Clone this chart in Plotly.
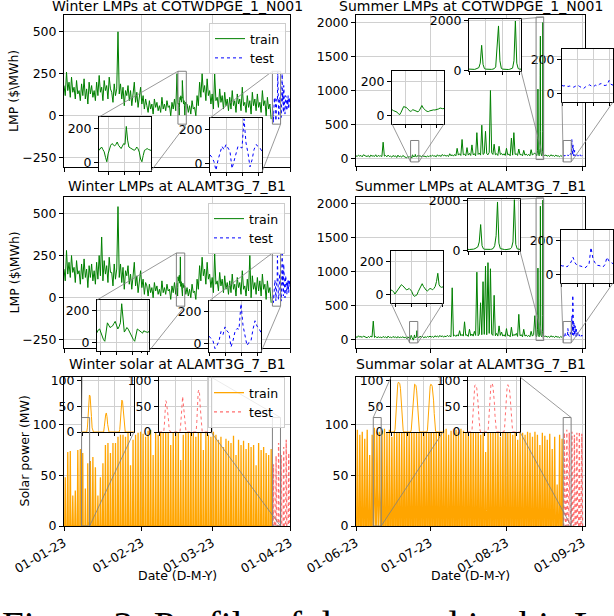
import pandas as pd
import plotly.graph_objects as go

W, H = 614, 616

# ---------------- data ----------------
winter_start = '2023-01-01'
summer_start = '2023-06-01'
winter_test_start = '2023-03-25'
summer_test_start = '2023-08-24'

winter_ticks = ['2023-01-01', '2023-02-01', '2023-03-01', '2023-04-01']
winter_ticktext = ['01-01-23', '01-02-23', '01-03-23', '01-04-23']
summer_ticks = ['2023-06-01', '2023-07-01', '2023-08-01', '2023-09-01']
summer_ticktext = ['01-06-23', '01-07-23', '01-08-23', '01-09-23']

# LMPs ($/MWh): train every 12 h, zoom windows every 2 h, test every 3 h
cot_winter_train = [
    180, 120, 260, 150, 200, 110, 230, 140, 170, 100, 210, 130,
    150, 90, 190, 120, 220, 100, 160, 70, 200, 130, 180, 110, 150, 90,
    200, 120, 240, 140, 170, 90, 210, 150, 180, 100, 230, 160, 140, 80, 190, 120,
    160, 500, 130, 190, 100, 170, 60, 150,
    120, 180, 90, 150, 60, 130, 200, 80, 140, 50, 110, 170, 70, 120, 40, 100,
    60, 20, 90, 40, 70, 10, 100, 50, 80, 30, 60, 20, 110, 40, 70, 30, 90, 50, 60, 0, 80, 40, 100, 30,
    250, 60, 80, 40, 110, 60, 90, 30,
    70, 20, 60, 10, 90, 40, 50, 0,
    120, 60, 200, 110, 250, 140, 180, 90, 220, 120,
    150, 70, 130, 40, 250, 90, 110, 50, 160, 80, 120, 40, 140, 60, 100, 30,
    110, 40, 150, 60, 90, 20, 130, 70, 100, 30, 170, 60, 80, 20, 120, 50, 90, 10, 140, 60,
    100, 30, 130, 50, 80, 20, 150, 60, 90, 0, 110, 40, 70, -20,
]
cot_winter_zoom_start = '2023-02-15 09:00'
cot_winter_zoom = [
    71, 80, 90, 75, 62, 30, 4, 50, 81, 100, 110, 105, 96, 105, 119, 100, 90, 81, 95, 110,
    105, 210, 130, 90, 85, 81, 78, 71, 75, 90, 80, 60, 20, 4, 40, 71, 75, 81, 76, 71, 70,
]
cot_winter_test = [
    50, 35, 10, -40, 20, 60, 100, 80, 110, 90, 70, -30, 10, 60, 100, 95, 90, 260, 120, 60,
    -20, 20, 80, 110, 100, 90, 70,
    30, -10, 50, 120, 250, 90, 140, 60, 20, 180, 100, 130, 70, 10, 60, 120, 90, 110, 80, 30,
    70, 100, 60, 120, 50, 40, 90, 110, 80,
]

ala_winter_train = [
    170, 100, 280, 140, 210, 120, 250, 150, 180, 90, 220, 140,
    160, 80, 200, 110, 230, 120, 170, 60, 190, 120, 200, 100, 160, 80,
    210, 110, 250, 130, 360, 100, 220, 140, 190, 90, 240, 150, 150, 70, 200, 110,
    170, 540, 120, 200, 90, 180, 50, 160,
    130, 190, 80, 140, 50, 120, 210, 70, 130, 30, 100, 160, 60, 110, 20, 90,
    70, 10, 80, 30, 60, 0, 90, 40, 70, 20, 50, 10, 100, 30, 60, 20, 80, 40, 50, -10, 70, 30, 90, 20,
    240, 50, 70, 30, 100, 50, 80, 20,
    60, 10, 50, 0, 80, 30, 40, -10,
    110, 50, 190, 100, 240, 130, 170, 80, 210, 110,
    140, 60, 120, 30, 260, 80, 100, 40, 150, 70, 110, 30, 130, 50, 90, 20,
    100, 30, 140, 50, 80, 10, 120, 60, 90, 20, 160, 50, 70, 10, 110, 40, 250, 0, 130, 50,
    90, 20, 120, 40, 100, 10, 140, 50, 80, -10, 100, 30, 60, -30,
]
ala_winter_zoom_start = '2023-02-14 18:00'
ala_winter_zoom = [
    70, 80, 86, 60, 38, 20, 10, 60, 124, 110, 95, 100, 105, 120, 133, 110, 86, 100, 124, 242,
    120, 67, 80, 95, 85, 67, 55, 38, 20, 10, 50, 86, 80, 70, 67, 60, 75, 70, 67, 65, 70,
]
ala_winter_test = [
    48, 30, 19, -29, -10, 19, 76, 57, 105, 80, 67, -19, 20, 76, 95, 90, 248, 114, 60, -10,
    10, 19, 90, 143, 110, 95, 70,
    20, -20, 40, 130, 260, 80, 150, 50, 10, 200, 90, 140, 60, 0, 50, 130, 80, 100, 70, 20,
    60, 90, 50, 110, 40, 30, 80, 100, 70,
]

cot_summer_train = [
    40, 30, 50, 35, 45, 25, 55, 40, 35, 30, 45, 20, 50, 35, 40, 30, 55, 25, 45, 35,
    40, 30, 240, 35, 45, 25, 50, 30, 35, 20, 45, 30, 40, 15, 50, 25, 35, 20, 45, 30,
    25, 10, 30, 15, 35, 20, 40, 25, 45, 30, 50, 35, 40, 25, 45, 30, 35, 20, 40, 25,
    45, 30, 50, 35, 40, 25, 55, 35, 45, 30, 60, 40, 50, 35, 45, 30, 70, 40, 55, 35,
    60, 40, 150, 50, 70, 45, 280, 55, 65, 40, 160, 50, 75, 45, 200, 55, 70, 40, 380, 60,
    80, 50, 490, 60, 75, 400, 70, 55, 90, 1000, 85, 60, 210, 55, 70, 45, 180, 60, 75, 50,
    70, 45, 150, 55, 65, 40, 300, 50, 380, 60, 70, 45, 140, 55, 60, 40, 120, 50, 65, 45,
    60, 40, 130, 50, 70, 80, 60, 70, 80, 60, 70, 50, 65, 45,
    50, 35, 45, 30, 55, 40, 45, 30, 50, 35, 40, 25, 45, 30,
]
cot_summer_zoom_start = '2023-06-23 03:00'
cot_summer_zoom = [
    35, 30, 28, 25, 20, 10, 6, 20, 40, 54, 50, 49, 40, 30, 25, 28, 35, 32, 30, 25,
    22, 30, 45, 60, 45, 35, 30, 25, 24, 28, 30, 35, 34, 33, 35, 36, 40, 45, 42, 41, 42,
]
cot_summer_spike_start = '2023-08-13 00:00'
cot_summer_spike = [
    60, 50, 45, 40, 50, 70, 90, 120, 300, 1020, 250, 80, 60, 50, 45, 40, 50, 60, 80, 150,
    1220, 1800, 400, 90, 60, 50, 45, 40, 45, 55, 70, 100, 400, 2000, 300, 80, 60, 50,
]
cot_summer_test = [
    48, 45, 50, 42, 45, 40, 38, 45, 50, 42, 35, 30, 40, 48, 52, 45, 40, 50, 45, 55,
    60, 50, 48, 52, 78, 55, 50,
    60, 280, 70, 50, 45, 200, 60, 40, 50, 45, 120, 55, 40, 35, 50, 60, 45, 40, 55, 50,
    45, 35, 40, 50, 60, 45, 40, 50, 55, 45, 40, 35, 50, 60, 45, 40, 50,
]

ala_summer_train = [
    40, 30, 55, 35, 45, 30, 50, 40, 35, 25, 45, 30, 50, 35, 270, 30, 45, 25, 40, 30,
    35, 25, 45, 30, 40, 20, 50, 30, 35, 25, 45, 30, 40, 20, 45, 25, 35, 30, 40, 25,
    35, 15, 40, 20, 30, 10, 45, 25, 35, 20, 40, 25, 50, 30, 45, 25, 40, 30, 45, 35,
    50, 35, 45, 30, 55, 40, 50, 35, 60, 40, 55, 35, 50, 40, 60, 45, 55, 40, 760, 50,
    65, 45, 70, 50, 130, 55, 75, 50, 260, 60, 70, 45, 150, 55, 80, 50, 120, 60, 990, 55,
    80, 540, 70, 850, 75, 1080, 70, 1130, 90, 1040, 80, 60, 650, 55, 90, 50, 200, 60, 110, 50,
    70, 45, 160, 55, 65, 40, 180, 50, 75, 60, 90, 45, 370, 55, 70, 40, 150, 50, 65, 45,
    60, 40, 120, 50, 70, 350, 60, 70, 80, 60, 70, 50, 65, 45,
    50, 35, 45, 30, 55, 40, 45, 30, 50, 35, 40, 25, 45, 30,
]
ala_summer_zoom_start = '2023-06-22 17:00'
ala_summer_zoom = [
    29, 25, 19, 4, 15, 30, 38, 50, 61, 55, 48, 35, 29, 33, 38, 30, 19, 0, -10, -5,
    0, 20, 38, 55, 67, 50, 34, 28, 23, 30, 38, 35, 30, 38, 50, 80, 130, 60, 48, 45, 48,
]
ala_summer_spike_start = '2023-08-13 00:00'
ala_summer_spike = [
    50, 45, 40, 45, 60, 80, 100, 150, 350, 1050, 200, 70, 55, 50, 45, 40, 50, 60, 90, 200,
    600, 1960, 300, 80, 60, 50, 45, 40, 45, 55, 70, 120, 350, 2050, 250, 70, 55, 50,
]
ala_summer_test = [
    54, 50, 55, 45, 60, 74, 103, 70, 55, 54, 50, 45, 40, 50, 60, 161, 93, 70, 55, 54,
    48, 45, 60, 103, 80, 70, 65,
    60, 350, 90, 70, 650, 120, 80, 60, 250, 70, 55, 60, 200, 65, 50, 45, 150, 60, 50, 55,
    100, 50, 45, 60, 55, 50, 70, 45, 50, 60, 55, 45, 50, 65, 55, 50, 60,
]

# solar (MW): daily peaks, plus hourly values for the zoom windows
solar_winter_train_peaks = [
    48, 73, 74, 30, 35, 75, 76, 72, 37, 62,
    64, 68, 58, 30, 48, 62, 80, 82, 72, 82,
    82, 88, 90, 90, 88, 92, 60, 85, 90, 92,
    93, 91, 88, 94, 95, 70, 92, 90, 93, 95,
    94, 96, 80, 93, 95, 92, 65, 90, 94, 93,
    95, 92, 88, 94, 96, 75, 92, 90, 88, 93,
    90, 85, 88, 78, 86, 84, 82, 89, 70, 85,
    80, 84, 76, 82, 78, 80, 60, 82, 75, 78,
    72, 70, 76,
]
solar_winter_test_peaks = [61, 69, 82, 70, 78, 85, 72]
solar_winter_zoom_start = '2023-01-08 00:00'
solar_winter_zoom = (
    [0] * 8 + [8, 35, 62, 72, 70, 55, 30, 8] + [0] * 8
    + [0] * 9 + [10, 25, 33, 37, 30, 15, 3] + [0] * 8
    + [0] * 8 + [5, 25, 50, 62, 60, 45, 20, 4] + [0] * 8
    + [0] * 6
)
solar_winter_test_zoom = (
    [0] * 8 + [15, 45, 61, 58, 50, 40, 25, 5] + [0] * 8
    + [0] * 8 + [12, 40, 65, 69, 55, 42, 20, 4] + [0] * 8
    + [0] * 8 + [20, 55, 78, 82, 75, 50, 25, 5] + [0] * 8
    + [0] * 6
)

solar_summer_train_peaks = [
    95, 90, 93, 86, 95, 70, 90, 97, 93, 93,
    94, 96, 92, 95, 88, 97, 94, 96, 95, 93,
    97, 95, 96, 94, 98, 95, 96, 93, 97, 95,
    96, 94, 95, 97, 93, 95, 96, 90, 94, 96,
    95, 93, 96, 94, 92, 95, 97, 94, 93, 95,
    90, 94, 73, 95, 92, 96, 94, 93, 88, 95,
    94, 92, 95, 90, 93, 85, 94, 92, 90, 93,
    92, 88, 93, 90, 80, 92, 89, 85, 91, 76,
    88, 41, 90, 86,
]
solar_summer_test_peaks = [92, 95, 92, 93, 90, 92, 93, 91]
solar_summer_zoom_start = '2023-06-08 00:00'
solar_summer_zoom = (
    [0] * 6 + [5, 25, 55, 80, 93, 97, 96, 94, 85, 65, 40, 15, 3] + [0] * 5
    + [0] * 6 + [4, 22, 50, 75, 88, 93, 92, 90, 80, 60, 35, 12, 2] + [0] * 5
    + [0] * 6 + [4, 24, 52, 76, 89, 93, 92, 89, 80, 62, 36, 12, 2] + [0] * 5
    + [0] * 6
)
solar_summer_test_zoom = (
    [0] * 6 + [5, 28, 60, 82, 90, 92, 90, 85, 75, 55, 30, 10, 2] + [0] * 5
    + [0] * 6 + [6, 30, 62, 85, 93, 95, 94, 88, 78, 58, 32, 10, 2] + [0] * 5
    + [0] * 6 + [5, 27, 58, 80, 89, 92, 90, 86, 76, 56, 30, 9, 2] + [0] * 5
    + [0] * 6
)


# ---------------- series ----------------
def lmp_series(coarse, start, zooms):
    s = pd.Series(coarse, index=pd.date_range(start, periods=len(coarse), freq='12h'), dtype=float)
    for z_start, z_vals in zooms:
        idx = pd.date_range(z_start, periods=len(z_vals), freq='2h')
        s = s[(s.index < idx[0]) | (s.index > idx[-1])]
        s = pd.concat([s, pd.Series(z_vals, index=idx, dtype=float)])
    return s.sort_index()


def test_series(vals, start):
    return pd.Series(vals, index=pd.date_range(start, periods=len(vals), freq='3h'), dtype=float)


def solar_series(peaks, start, hours, z_start, z_vals):
    xs, ys = [], []
    for i, p in enumerate(peaks):
        day = pd.Timestamp(start) + pd.Timedelta(days=i)
        for h, v in zip(hours, (0, p, 0)):
            xs.append(day + pd.Timedelta(hours=h))
            ys.append(v)
    s = pd.Series(ys, index=xs, dtype=float)
    idx = pd.date_range(z_start, periods=len(z_vals), freq='1h')
    s = s[(s.index < idx[0]) | (s.index > idx[-1])]
    return pd.concat([s, pd.Series(z_vals, index=idx, dtype=float)]).sort_index()


def span(start, n, step):
    t0 = pd.Timestamp(start)
    return [t0, t0 + (n - 1) * pd.Timedelta(step)]


cot_w = lmp_series(cot_winter_train, winter_start, [(cot_winter_zoom_start, cot_winter_zoom)])
cot_w_test = test_series(cot_winter_test, winter_test_start)
ala_w = lmp_series(ala_winter_train, winter_start, [(ala_winter_zoom_start, ala_winter_zoom)])
ala_w_test = test_series(ala_winter_test, winter_test_start)
cot_s = lmp_series(cot_summer_train, summer_start,
                   [(cot_summer_zoom_start, cot_summer_zoom), (cot_summer_spike_start, cot_summer_spike)])
cot_s_test = test_series(cot_summer_test, summer_test_start)
ala_s = lmp_series(ala_summer_train, summer_start,
                   [(ala_summer_zoom_start, ala_summer_zoom), (ala_summer_spike_start, ala_summer_spike)])
ala_s_test = test_series(ala_summer_test, summer_test_start)

sol_w = solar_series(solar_winter_train_peaks, winter_start, (7, 12, 17),
                     solar_winter_zoom_start, solar_winter_zoom)
sol_w_test = solar_series(solar_winter_test_peaks, winter_test_start, (7, 12, 17),
                          winter_test_start, solar_winter_test_zoom)
sol_s = solar_series(solar_summer_train_peaks, summer_start, (6, 13, 20),
                     solar_summer_zoom_start, solar_summer_zoom)
sol_s_test = solar_series(solar_summer_test_peaks, summer_test_start, (6, 13, 20),
                          summer_test_start, solar_summer_test_zoom)

# ---------------- figure ----------------
GREEN, BLUE, ORANGE, RED = '#008000', '#0000ff', '#ffa500', 'rgba(255,60,60,0.75)'
GRID, RECT = '#d0d0d0', '#808080'
TICK = 12.5

fig = go.Figure()
axes = {}


def ax_id(n, letter):
    return letter if n == 1 else f'{letter}{n}'


def add_axes(n, box, xr, yr, ytickvals, xticks=None, xticktext=None, labels=False, inset=False):
    x0, y0, x1, y1 = box
    dx = [x0 / W, x1 / W]
    dy = [1 - y1 / H, 1 - y0 / H]
    axes[n] = (dx, dy, xr, yr)
    common = dict(showline=True, linecolor='black', linewidth=1, mirror=True,
                  showgrid=True, gridcolor=GRID, gridwidth=0.8, zeroline=False,
                  ticks='outside', ticklen=4, tickcolor='black', automargin=False,
                  tickfont=dict(size=TICK, color='black'))
    xa = dict(common, domain=dx, range=xr, type='date', anchor=ax_id(n, 'y'))
    if inset:
        xa.update(showticklabels=False, dtick=86400000, tick0='2023-01-01', ticklen=3)
    else:
        xa.update(tickvals=xticks, ticktext=xticktext, showticklabels=labels, tickangle=-30)
    ya = dict(common, domain=dy, range=yr, tickvals=ytickvals, anchor=ax_id(n, 'x'))
    key = '' if n == 1 else str(n)
    fig.update_layout({f'xaxis{key}': xa, f'yaxis{key}': ya})


def add_line(s, n, color, dash='solid', width=1.0, name=None, legend=None):
    fig.add_trace(go.Scatter(
        x=s.index, y=s.values, mode='lines', name=name,
        xaxis=ax_id(n, 'x'), yaxis=ax_id(n, 'y'),
        line=dict(color=color, width=width, dash=dash),
        showlegend=legend is not None, legend=legend or 'legend', hoverinfo='skip'))


def data_to_paper(n, x, y):
    dx, dy, xr, yr = axes[n]
    xm = [pd.Timestamp(v).value / 1e6 for v in xr]
    xv = pd.Timestamp(x).value / 1e6
    px = dx[0] + (xv - xm[0]) / (xm[1] - xm[0]) * (dx[1] - dx[0])
    py = dy[0] + (y - yr[0]) / (yr[1] - yr[0]) * (dy[1] - dy[0])
    return px, py


shapes = []


def mark_inset(n, parent, corners):
    dx, dy, xr, yr = axes[n]
    shapes.append(dict(type='rect', xref=ax_id(parent, 'x'), yref=ax_id(parent, 'y'),
                       x0=xr[0], x1=xr[1], y0=yr[0], y1=yr[1],
                       line=dict(color=RECT, width=1), layer='above'))
    for c in corners:
        ix = dx[0] if c[1] == 'l' else dx[1]
        iy = dy[1] if c[0] == 't' else dy[0]
        rx = xr[0] if c[1] == 'l' else xr[1]
        ry = yr[1] if c[0] == 't' else yr[0]
        px, py = data_to_paper(parent, rx, ry)
        shapes.append(dict(type='line', xref='paper', yref='paper', x0=ix, y0=iy, x1=px, y1=py,
                           line=dict(color=RECT, width=0.8), layer='above'))


winter_range = ['2023-01-01', '2023-04-01']
summer_range = ['2023-06-01', '2023-09-01 20:00']
lmp_ticks = [-250, 0, 250, 500]
big_ticks = [0, 500, 1000, 1500, 2000]

add_axes(1, (64, 15, 290, 167), winter_range, [-305, 600], lmp_ticks, winter_ticks, winter_ticktext)
add_axes(2, (356, 15, 585, 166), summer_range, [-110, 2110], big_ticks, summer_ticks, summer_ticktext)
add_axes(3, (64, 197, 290, 348), winter_range, [-298, 597], lmp_ticks, winter_ticks, winter_ticktext)
add_axes(4, (356, 197, 585, 348), summer_range, [-125, 2095], big_ticks, summer_ticks, summer_ticktext)
add_axes(5, (64, 377, 290, 526), winter_range, [0, 147], [0, 50, 100], winter_ticks, winter_ticktext, True)
add_axes(6, (356, 377, 585, 526), summer_range, [0, 147], [0, 50, 100], summer_ticks, summer_ticktext, True)

add_line(cot_w, 1, GREEN, name='train', legend='legend')
add_line(cot_w_test, 1, BLUE, 'dot', name='test', legend='legend')
add_line(cot_s, 2, GREEN)
add_line(cot_s_test, 2, BLUE, 'dot')
add_line(ala_w, 3, GREEN, name='train', legend='legend2')
add_line(ala_w_test, 3, BLUE, 'dot', name='test', legend='legend2')
add_line(ala_s, 4, GREEN)
add_line(ala_s_test, 4, BLUE, 'dot')
add_line(sol_w, 5, ORANGE, width=1.3, name='train', legend='legend3')
add_line(sol_w_test, 5, RED, 'dot', width=1.3, name='test', legend='legend3')
add_line(sol_s, 6, ORANGE, width=1.3)
add_line(sol_s_test, 6, RED, 'dot', width=1.3)

small = [-50, 265]
spike = [-15, 2080]
sol_r = [0, 107]
insets = [
    # n, parent, box, x window, y range, y ticks, series, corners
    (7, 1, (99, 117, 151, 171), span(cot_winter_zoom_start, 41, '2h'), small, [0, 200],
     [(cot_w, GREEN, 'solid')], ('tl', 'br')),
    (8, 1, (210, 118, 262, 172), span(winter_test_start, 27, '3h'), small, [0, 200],
     [(cot_w_test, BLUE, 'dot')], ('tl', 'br')),
    (9, 2, (392, 71, 444, 124), span(cot_summer_zoom_start, 41, '2h'), small, [0, 200],
     [(cot_s, GREEN, 'solid')], ('bl', 'br')),
    (10, 2, (469, 19, 521, 71), span(cot_summer_spike_start, 38, '2h'), spike, [0, 2000],
     [(cot_s, GREEN, 'solid')], ('tr', 'br')),
    (11, 2, (562, 49, 613, 102), span(summer_test_start, 27, '3h'), small, [0, 200],
     [(cot_s_test, BLUE, 'dot')], ('bl', 'br')),
    (12, 3, (97, 300, 149, 351), span(ala_winter_zoom_start, 41, '2h'), small, [0, 200],
     [(ala_w, GREEN, 'solid')], ('tl', 'br')),
    (13, 3, (209, 301, 261, 352), span(winter_test_start, 27, '3h'), small, [0, 200],
     [(ala_w_test, BLUE, 'dot')], ('tl', 'br')),
    (14, 4, (391, 251, 443, 303), span(ala_summer_zoom_start, 41, '2h'), small, [0, 200],
     [(ala_s, GREEN, 'solid')], ('bl', 'br')),
    (15, 4, (468, 199, 520, 251), span(ala_summer_spike_start, 38, '2h'), spike, [0, 2000],
     [(ala_s, GREEN, 'solid')], ('tr', 'br')),
    (16, 4, (561, 230, 613, 283), span(summer_test_start, 27, '3h'), small, [0, 200],
     [(ala_s_test, BLUE, 'dot')], ('bl', 'br')),
    (17, 5, (82, 377, 134, 432), span(solar_winter_zoom_start, 78, '1h'), sol_r, [0, 50, 100],
     [(sol_w, ORANGE, 'solid')], ('tl', 'br')),
    (18, 5, (159, 377, 211, 432), span(winter_test_start, 78, '1h'), sol_r, [0, 50, 100],
     [(sol_w_test, RED, 'dot')], ('tr', 'br')),
    (19, 6, (391, 377, 443, 432), span(solar_summer_zoom_start, 78, '1h'), sol_r, [0, 50, 100],
     [(sol_s, ORANGE, 'solid')], ('tl', 'br')),
    (20, 6, (468, 377, 520, 432), span(summer_test_start, 78, '1h'), sol_r, [0, 50, 100],
     [(sol_s_test, RED, 'dot')], ('tr', 'br')),
]
for n, parent, box, xr, yr, yt, series, corners in insets:
    add_axes(n, box, xr, yr, yt, inset=True)
    for s, color, dash in series:
        add_line(s, n, color, dash)
    mark_inset(n, parent, corners)

# ---------------- text ----------------
annotations = []
titles = [
    (1, 'Winter LMPs at COTWDPGE_1_N001', 6), (2, 'Summer LMPs at COTWDPGE_1_N001', 6),
    (3, 'Winter LMPs at ALAMT3G_7_B1', 186), (4, 'Summer LMPs at ALAMT3G_7_B1', 186),
    (5, 'Winter solar at ALAMT3G_7_B1', 364), (6, 'Summar solar at ALAMT3G_7_B1', 364),
]
for n, text, ypx in titles:
    dx = axes[n][0]
    annotations.append(dict(text=text, x=(dx[0] + dx[1]) / 2, y=1 - ypx / H, xref='paper', yref='paper',
                            showarrow=False, font=dict(size=14, color='black'),
                            xanchor='center', yanchor='middle'))
for n, text, xpx in [(1, 'LMP ($\\MWh)', 14), (3, 'LMP ($\\MWh)', 14), (5, 'Solar power (MW)', 24)]:
    dy = axes[n][1]
    annotations.append(dict(text=text, x=xpx / W, y=(dy[0] + dy[1]) / 2, xref='paper', yref='paper',
                            showarrow=False, textangle=-90, xanchor='center', yanchor='middle',
                            font=dict(size=TICK, color='black')))
for n in (5, 6):
    dx = axes[n][0]
    annotations.append(dict(text='Date (D-M-Y)', x=(dx[0] + dx[1]) / 2, y=1 - 575 / H,
                            xref='paper', yref='paper', showarrow=False,
                            xanchor='center', yanchor='middle',
                            font=dict(size=TICK, color='black')))
# caption of the page, only its upper part falls inside the picture
annotations.append(dict(text='Figure 3: Profile of data used in this L',
                        x=0, y=1 - 602 / H, xref='paper', yref='paper', xanchor='left', yanchor='top',
                        showarrow=False, font=dict(family='Liberation Serif', size=39, color='black')))

legend_style = dict(font=dict(size=TICK, color='black'), bgcolor='rgba(255,255,255,0.8)',
                    bordercolor='#cccccc', borderwidth=1, xanchor='right', yanchor='top',
                    itemwidth=30, tracegroupgap=0)

fig.update_layout(
    width=W, height=H, autosize=False,
    margin=dict(l=0, r=0, t=0, b=0, pad=0, autoexpand=False),
    paper_bgcolor='white', plot_bgcolor='white',
    font=dict(family='DejaVu Sans', color='black'),
    legend=dict(legend_style, x=286 / W, y=1 - 23 / H),
    legend2=dict(legend_style, x=285 / W, y=1 - 203 / H),
    legend3=dict(legend_style, x=285 / W, y=1 - 377 / H),
    shapes=shapes, annotations=annotations,
)

# drop the browser's default page margin so the figure sits at the window corner
fig.write_html('out.html', config={'displayModeBar': False},
               post_script="document.body.style.margin = '0';")
